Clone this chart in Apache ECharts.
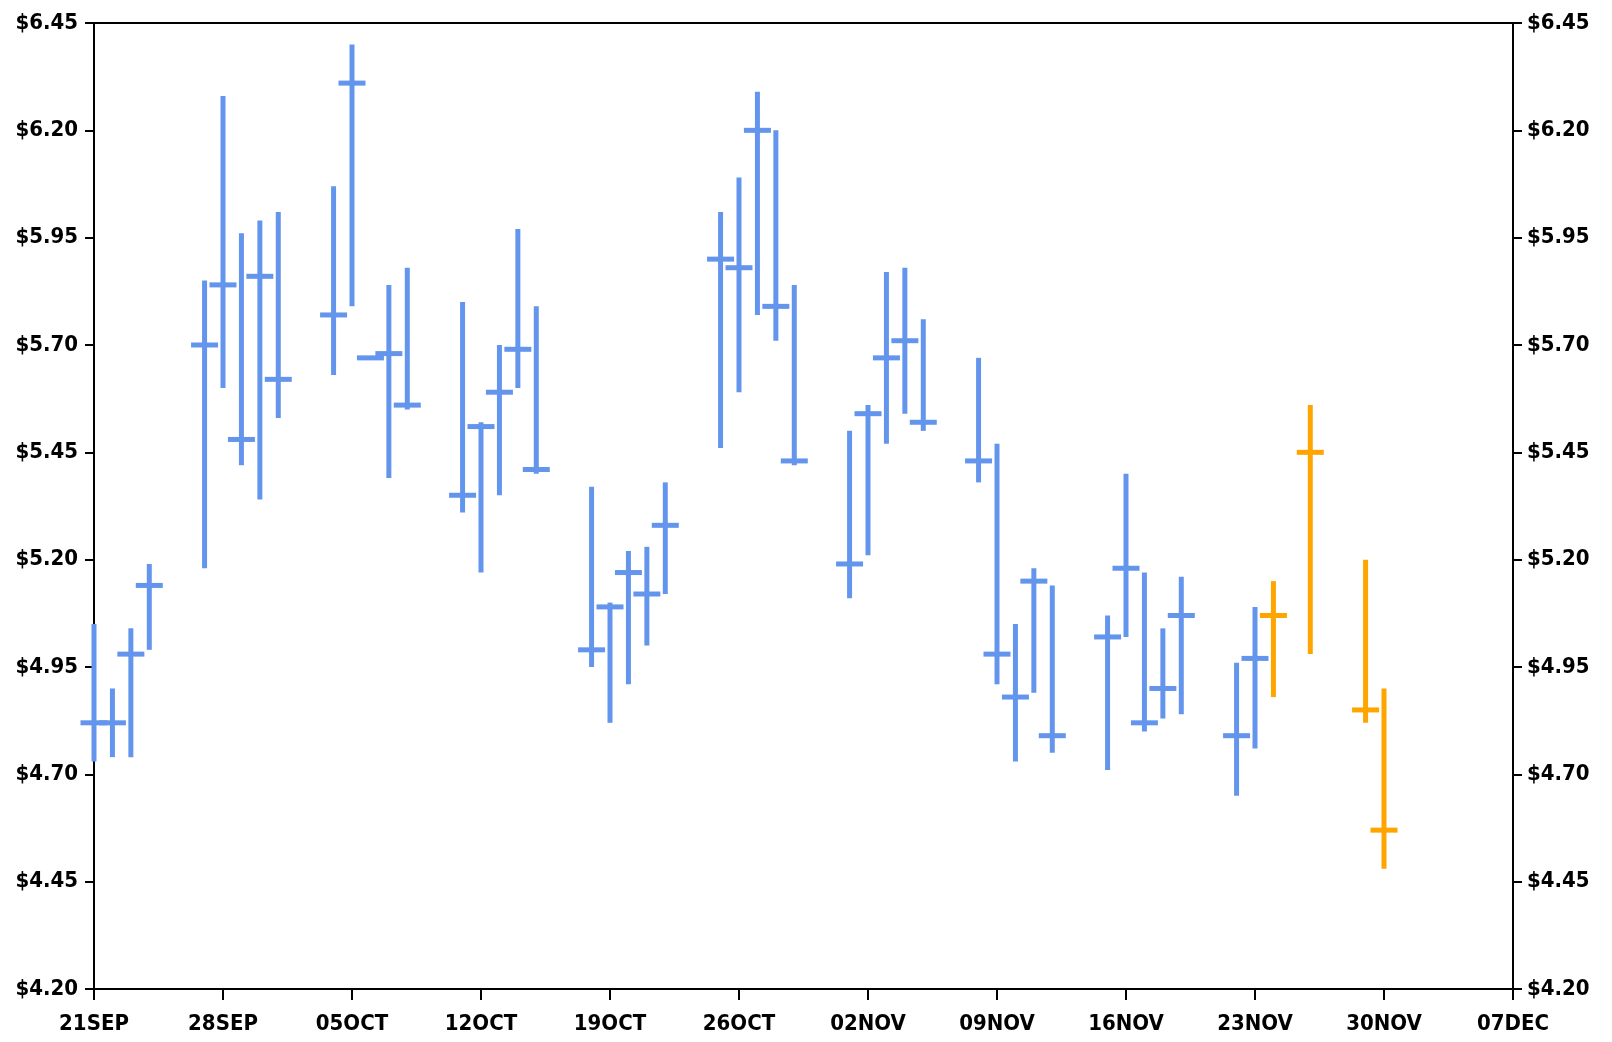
<!DOCTYPE html>
<html>
<head>
<meta charset="utf-8">
<script src="https://cdn.jsdelivr.net/npm/echarts@6/dist/echarts.min.js"></script>
<style>
html,body{margin:0;padding:0;background:#fff;}
#chart{width:1612px;height:1042px;}
</style>
</head>
<body>
<div id="chart"></div>
<script>
// ---- data ----
const startDate = '2020-09-21';
const xTickLabels = ['21SEP','28SEP','05OCT','12OCT','19OCT','26OCT','02NOV','09NOV','16NOV','23NOV','30NOV','07DEC'];
const yTickValues = [4.20,4.45,4.70,4.95,5.20,5.45,5.70,5.95,6.20,6.45];

const histDates = [
  '2020-09-21','2020-09-22','2020-09-23','2020-09-24',
  '2020-09-27','2020-09-28','2020-09-29','2020-09-30','2020-10-01',
  '2020-10-04','2020-10-05','2020-10-06','2020-10-07','2020-10-08',
  '2020-10-11','2020-10-12','2020-10-13','2020-10-14','2020-10-15',
  '2020-10-18','2020-10-19','2020-10-20','2020-10-21','2020-10-22',
  '2020-10-25','2020-10-26','2020-10-27','2020-10-28','2020-10-29',
  '2020-11-01','2020-11-02','2020-11-03','2020-11-04','2020-11-05',
  '2020-11-08','2020-11-09','2020-11-10','2020-11-11','2020-11-12',
  '2020-11-15','2020-11-16','2020-11-17','2020-11-18','2020-11-19',
  '2020-11-22','2020-11-23'
];
const histHigh = [
  5.05,4.90,5.04,5.19,
  5.85,6.28,5.96,5.99,6.01,
  6.07,6.40,5.67,5.84,5.88,
  5.80,5.52,5.70,5.97,5.79,
  5.37,5.10,5.22,5.23,5.38,
  6.01,6.09,6.29,6.20,5.84,
  5.50,5.56,5.87,5.88,5.76,
  5.67,5.47,5.05,5.18,5.14,
  5.07,5.40,5.17,5.04,5.16,
  4.96,5.09
];
const histLow = [
  4.73,4.74,4.74,4.99,
  5.18,5.60,5.42,5.34,5.53,
  5.63,5.79,5.665,5.39,5.55,
  5.31,5.17,5.35,5.60,5.40,
  4.95,4.82,4.91,5.00,5.12,
  5.46,5.59,5.77,5.71,5.42,
  5.11,5.21,5.47,5.54,5.50,
  5.38,4.91,4.73,4.89,4.75,
  4.71,5.02,4.80,4.83,4.84,
  4.65,4.76
];
const histClose = [
  4.82,4.82,4.98,5.14,
  5.70,5.84,5.48,5.86,5.62,
  5.77,6.31,5.67,5.68,5.56,
  5.35,5.51,5.59,5.69,5.41,
  4.99,5.09,5.17,5.12,5.28,
  5.90,5.88,6.20,5.79,5.43,
  5.19,5.54,5.67,5.71,5.52,
  5.43,4.98,4.88,5.15,4.79,
  5.02,5.18,4.82,4.90,5.07,
  4.79,4.97
];

const fcDates = ['2020-11-24','2020-11-26','2020-11-29','2020-11-30'];
const fcHigh  = [5.15,5.56,5.20,4.90];
const fcLow   = [4.88,4.98,4.82,4.48];
const fcClose = [5.07,5.45,4.85,4.57];

// ---- build ----
const DAY = 86400000;
const t0 = Date.parse(startDate + 'T00:00:00Z');
function dayIndex(d){ return Math.round((Date.parse(d + 'T00:00:00Z') - t0) / DAY); }
function rows(dates, lo, hi, cl){ return dates.map((d,i)=>[dayIndex(d), lo[i], hi[i], cl[i]]); }

const BLUE = '#6495ED', ORANGE = '#FFA500';
function makeRender(color){
  return function(params, api){
    const x = api.value(0), lo = api.value(1), hi = api.value(2), cl = api.value(3);
    const pLo = api.coord([x, lo]), pHi = api.coord([x, hi]), pCl = api.coord([x, cl]);
    const bw = 5, tw = 27, th = 5;
    return {
      type: 'group',
      children: [
        {type:'rect', shape:{x:pHi[0]-bw/2, y:pHi[1], width:bw, height:Math.max(1,pLo[1]-pHi[1])}, style:{fill:color}},
        {type:'rect', shape:{x:pCl[0]-tw/2, y:pCl[1]-th/2, width:tw, height:th}, style:{fill:color}}
      ]
    };
  };
}

const labelFont = {color:'#000', fontFamily:'"DejaVu Sans Condensed","DejaVu Sans",sans-serif', fontWeight:'bold', fontSize:22};

const yAxisBase = {
  type:'value', min:4.20, max:6.45,
  splitLine:{show:false},
  axisLine:{show:true, lineStyle:{color:'#000', width:2}},
  axisTick:{show:true, length:9, lineStyle:{color:'#000', width:2}, customValues: yTickValues},
};

const chart = echarts.init(document.getElementById('chart'));
chart.setOption({
  animation:false,
  backgroundColor:'#fff',
  grid:{left:94, right:99, top:23, bottom:53, show:true, borderColor:'#000', borderWidth:2, containLabel:false},
  xAxis:{
    type:'value', min:0, max:77, interval:7,
    splitLine:{show:false},
    axisLine:{show:true, onZero:false, lineStyle:{color:'#000', width:2}},
    axisTick:{show:true, length:11, lineStyle:{color:'#000', width:2}},
    axisLabel:Object.assign({margin:24, formatter:(v)=>xTickLabels[Math.round(v/7)] || ''}, labelFont)
  },
  yAxis:[
    Object.assign({}, yAxisBase, {position:'left',
      axisLabel:Object.assign({margin:16, customValues:yTickValues, formatter:(v)=>'$'+v.toFixed(2)}, labelFont)}),
    Object.assign({}, yAxisBase, {position:'right',
      axisLabel:Object.assign({margin:14, customValues:yTickValues, formatter:(v)=>'$'+v.toFixed(2)}, labelFont)})
  ],
  series:[
    {type:'custom', name:'hist', renderItem:makeRender(BLUE), encode:{x:0, y:[1,2,3]}, data:rows(histDates, histLow, histHigh, histClose), clip:false},
    {type:'custom', name:'fc', renderItem:makeRender(ORANGE), encode:{x:0, y:[1,2,3]}, data:rows(fcDates, fcLow, fcHigh, fcClose), clip:false}
  ]
});
</script>
</body>
</html>
